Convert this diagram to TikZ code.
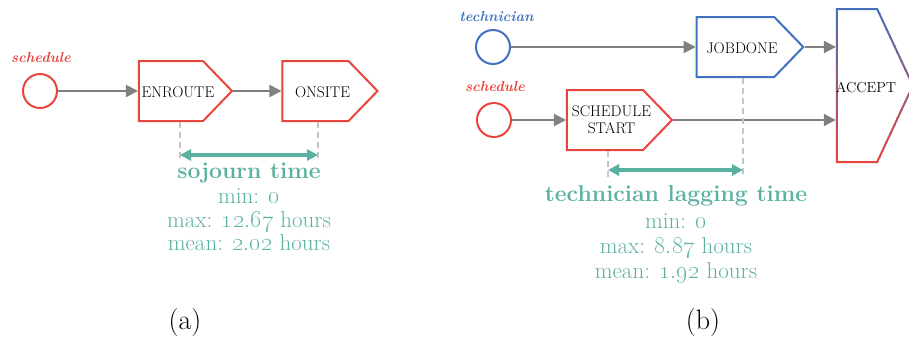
\documentclass[tikz,border=0pt]{standalone}
\usetikzlibrary{shapes.symbols,arrows.meta}
\definecolor{cred}{HTML}{E8453C}
\definecolor{cblue}{HTML}{4172C0}
\definecolor{cteal}{HTML}{5AB0A1}
\definecolor{cgray}{HTML}{808080}
\definecolor{cdash}{HTML}{C4C4C4}
\tikzset{
  pent/.style={shape=signal, signal to=east, signal pointer angle=92, line width=2pt, inner sep=0pt, minimum width=93pt, minimum height=60pt},
  startc/.style={circle, draw, line width=2pt, minimum size=34pt, inner sep=0pt},
  flow/.style={draw=cgray, line width=2pt, -{Triangle[length=12pt,width=12pt]}},
  guide/.style={draw=cdash, line width=1.5pt, dash pattern=on 6pt off 4pt},
  span/.style={draw=cteal, line width=3.5pt, {Triangle[length=11pt,width=11pt]}-{Triangle[length=11pt,width=11pt]}},
  tag/.style={font=\fontsize{14.5}{16}\selectfont\bfseries\itshape, anchor=base},
  boxtxt/.style={font=\fontsize{15.5}{17}\selectfont, align=center, inner sep=0pt},
  head/.style={text=cteal, font=\fontsize{23}{26}\selectfont\bfseries, anchor=base},
  stat/.style={text=cteal, font=\fontsize{23}{24}\selectfont, anchor=base},
  captxt/.style={font=\fontsize{28}{30}\selectfont, anchor=base},
}
\begin{document}
\begin{tikzpicture}[x=1pt,y=-1pt]
\useasboundingbox (0,0) rectangle (909,341);
% ---------- panel (a)
\node[tag, text=cred] (taga) at (41,62) {schedule};
\node[startc, draw=cred] (ca) at (40,91) {};
\node[pent, draw=cred] (enroute) at (171,91) {};
\node[pent, draw=cred, minimum width=95pt] (onsite) at (315.5,91) {};
\node[boxtxt] (enroutet) at (178,92) {ENROUTE};
\node[boxtxt] (onsitet) at (322.5,92) {ONSITE};
\draw[flow] (ca) -- (enroute);
\draw[flow] (enroute) -- (onsite);
\coordinate (ga1) at (180,160);
\coordinate (ga2) at (318,160);
\draw[guide] (enroute.south -| ga1) -- (ga1);
\draw[guide] (onsite.south -| ga2) -- (ga2);
\coordinate (sa1) at (180,155);
\coordinate (sa2) at (318,155);
\draw[span] (sa1) -- (sa2);
\node[head] (heada) at (249,178) {sojourn time};
\node[stat] (sa1t) at (249,203) {min: \oldstylenums{0}};
\node[stat] (sa2t) at (249,227) {max: \oldstylenums{12.67} hours};
\node[stat] (sa3t) at (249,250) {mean: \oldstylenums{2.02} hours};
\node[captxt] (capa) at (185,329) {(a)};
% ---------- panel (b)
\node[tag, text=cblue] (tagt) at (496.5,21.7) {technician};
\node[tag, text=cred] (tags) at (495,91) {schedule};
\node[startc, draw=cblue] (cb1) at (493,47) {};
\node[startc, draw=cred] (cb2) at (494,120) {};
\node[pent, draw=cblue, minimum width=106.5pt] (jobdone) at (735.5,47) {};
\node[pent, draw=cred, minimum width=105pt] (sstart) at (605,120) {};
\node[boxtxt] (jobdonet) at (742,48) {JOBDONE};
\node[boxtxt] (sstartt) at (611.5,120) {SCHEDULE\\START};
\node[pent, draw=none, signal pointer angle=130, minimum width=76pt, minimum height=153pt] (accept) at (857,85.5) {};
\foreach \i in {0,...,19}{
  \pgfmathtruncatemacro\pct{round(100*(\i+0.5)/20)}
  \begin{scope}
    \clip (815,{5+\i*8}) rectangle (925,{5+(\i+1)*8});
    \node[pent, draw=cred!\pct!cblue, signal pointer angle=130, minimum width=76pt, minimum height=153pt] at (857,85.5) {};
  \end{scope}
}
\node[boxtxt, font=\fontsize{14.5}{17}\selectfont] (acceptt) at (866,87) {ACCEPT};
\draw[flow] (cb1) -- (jobdone);
\draw[flow] (cb2) -- (sstart);
\draw[flow] (jobdone.east) -- (jobdone.east -| accept.west);
\draw[flow] (sstart.east) -- (sstart.east -| accept.west);
\coordinate (gb1) at (608,177);
\coordinate (gb2) at (743,177);
\draw[guide] (sstart.south -| gb1) -- (gb1);
\draw[guide] (jobdone.south -| gb2) -- (gb2);
\coordinate (sb1) at (608,170);
\coordinate (sb2) at (743,170);
\draw[span] (sb1) -- (sb2);
\node[head] (headb) at (676,201) {technician lagging time};
\node[stat] (sb1t) at (676,228) {min: \oldstylenums{0}};
\node[stat] (sb2t) at (676,253) {max: \oldstylenums{8.87} hours};
\node[stat] (sb3t) at (676,278) {mean: \oldstylenums{1.92} hours};
\node[captxt] (capb) at (703,329) {(b)};
\end{tikzpicture}
\end{document}
